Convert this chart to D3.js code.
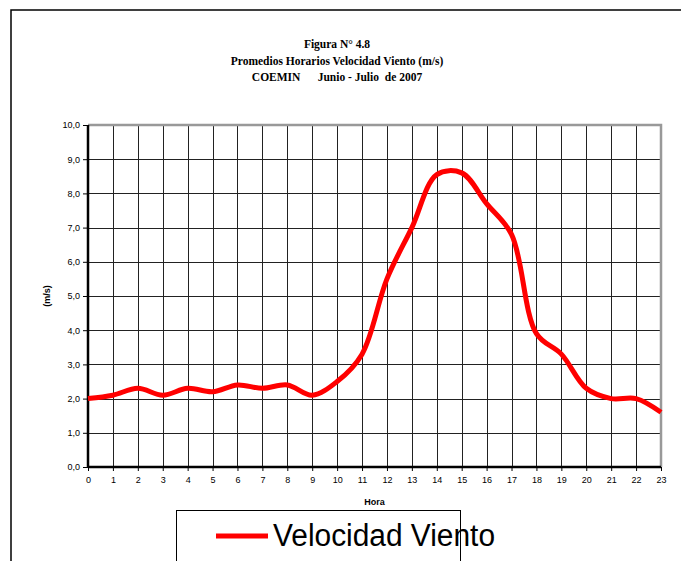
<!DOCTYPE html>
<html>
<head>
<meta charset="utf-8">
<script src="https://cdn.jsdelivr.net/npm/d3@7"></script>
<style>
  html, body { margin: 0; padding: 0; background: #fff; }
  svg { display: block; }
</style>
</head>
<body>
<div id="chart"></div>
<script>
/* ---- Data ---- */
const HOURS = d3.range(0, 24);
const SPEED = [2.0, 2.1, 2.3, 2.1, 2.3, 2.2, 2.4, 2.3, 2.4, 2.1, 2.5, 3.3,
               5.5, 7.0, 8.55, 8.6, 7.7, 6.8, 3.9, 3.3, 2.3, 2.0, 2.0, 1.6];
const Y_TICKS = d3.range(0, 11);
const TITLE_LINES = ['Figura N° 4.8', 'Promedios Horarios Velocidad Viento (m/s)', 'COEMIN      Junio - Julio  de 2007'];
const SERIES_NAME = 'Velocidad Viento';

const W = 681, H = 561;
const m = { left: 88, right: 661, top: 125, bottom: 467 };

const svg = d3.select('#chart').append('svg')
  .attr('width', W).attr('height', H);

// outer frame (left + top)
svg.append('path')
  .attr('d', `M11,${H} L11,10 L${W},10`)
  .attr('fill', 'none').attr('stroke', '#000').attr('stroke-width', 1.5);

// title
svg.append('g').selectAll('text')
  .data(TITLE_LINES)
  .join('text')
    .attr('x', 337).attr('y', (d, i) => 48 + i * 16.5)
    .attr('text-anchor', 'middle')
    .style('font-family', '"Liberation Serif", "Times New Roman", serif')
    .style('font-weight', 'bold').style('font-size', '11.5px')
    .style('white-space', 'pre')
    .text(d => d);

const x = d3.scaleLinear().domain([0, 23]).range([m.left, m.right]);
const y = d3.scaleLinear().domain([0, 10]).range([m.bottom, m.top]);

// grid
const grid = svg.append('g').attr('stroke', '#222').attr('stroke-width', 1);
grid.selectAll('.vg').data(HOURS.slice(1, -1)).join('line')
  .attr('x1', d => Math.round(x(d)) + 0.5).attr('x2', d => Math.round(x(d)) + 0.5)
  .attr('y1', m.top).attr('y2', m.bottom);
grid.selectAll('.hg').data(Y_TICKS.slice(1, -1)).join('line')
  .attr('y1', d => Math.round(y(d)) + 0.5).attr('y2', d => Math.round(y(d)) + 0.5)
  .attr('x1', m.left).attr('x2', m.right);

// plot border top/right (gray)
svg.append('path')
  .attr('d', `M${m.left},${m.top} L${m.right},${m.top} L${m.right},${m.bottom}`)
  .attr('fill', 'none').attr('stroke', '#999').attr('stroke-width', 2.5);

// axes
const yAxis = d3.axisLeft(y).tickValues(Y_TICKS).tickSize(5).tickPadding(3)
  .tickFormat(d => d3.format('.1f')(d).replace('.', ','));
const gy = svg.append('g').attr('transform', `translate(${m.left},0)`).call(yAxis);
const xAxis = d3.axisBottom(x).tickValues(HOURS).tickSize(4).tickPadding(6);
const gx = svg.append('g').attr('transform', `translate(0,${m.bottom})`).call(xAxis);
[gx, gy].forEach(g => {
  g.select('.domain').attr('stroke', '#000').attr('stroke-width', 2.5)
    .attr('d', g === gx ? `M${m.left},0H${m.right}` : `M0,${m.bottom}V${m.top}`);
  g.selectAll('.tick line').attr('stroke', '#000');
  g.selectAll('.tick text')
    .style('font-family', '"Liberation Sans", Arial, sans-serif')
    .style('font-size', '9px').attr('fill', '#000');
});

// axis titles
svg.append('text')
  .attr('transform', `translate(50,${(m.top + m.bottom) / 2}) rotate(-90)`)
  .attr('text-anchor', 'middle')
  .style('font-family', '"Liberation Sans", Arial, sans-serif')
  .style('font-weight', 'bold').style('font-size', '9px')
  .text('(m/s)');
svg.append('text')
  .attr('x', (m.left + m.right) / 2).attr('y', 505)
  .attr('text-anchor', 'middle')
  .style('font-family', '"Liberation Sans", Arial, sans-serif')
  .style('font-weight', 'bold').style('font-size', '9px')
  .text('Hora');

// series
const line = d3.line()
  .x((d, i) => x(HOURS[i]))
  .y(d => y(d))
  .curve(d3.curveCatmullRom.alpha(0.5));
svg.append('path')
  .datum(SPEED)
  .attr('d', line)
  .attr('fill', 'none').attr('stroke', '#ff0000')
  .attr('stroke-width', 5).attr('stroke-linejoin', 'round');

// legend
const lg = svg.append('g');
lg.append('rect')
  .attr('x', 176.5).attr('y', 510.5).attr('width', 284).attr('height', 70)
  .attr('fill', '#fff').attr('stroke', '#000').attr('stroke-width', 1);
lg.append('line')
  .attr('x1', 216).attr('x2', 268).attr('y1', 536).attr('y2', 536)
  .attr('stroke', '#ff0000').attr('stroke-width', 5);
lg.append('text')
  .attr('x', 273).attr('y', 546)
  .attr('textLength', 222).attr('lengthAdjust', 'spacingAndGlyphs')
  .style('font-family', '"Liberation Sans", Arial, sans-serif')
  .style('font-size', '31px')
  .text(SERIES_NAME);
</script>
</body>
</html>
